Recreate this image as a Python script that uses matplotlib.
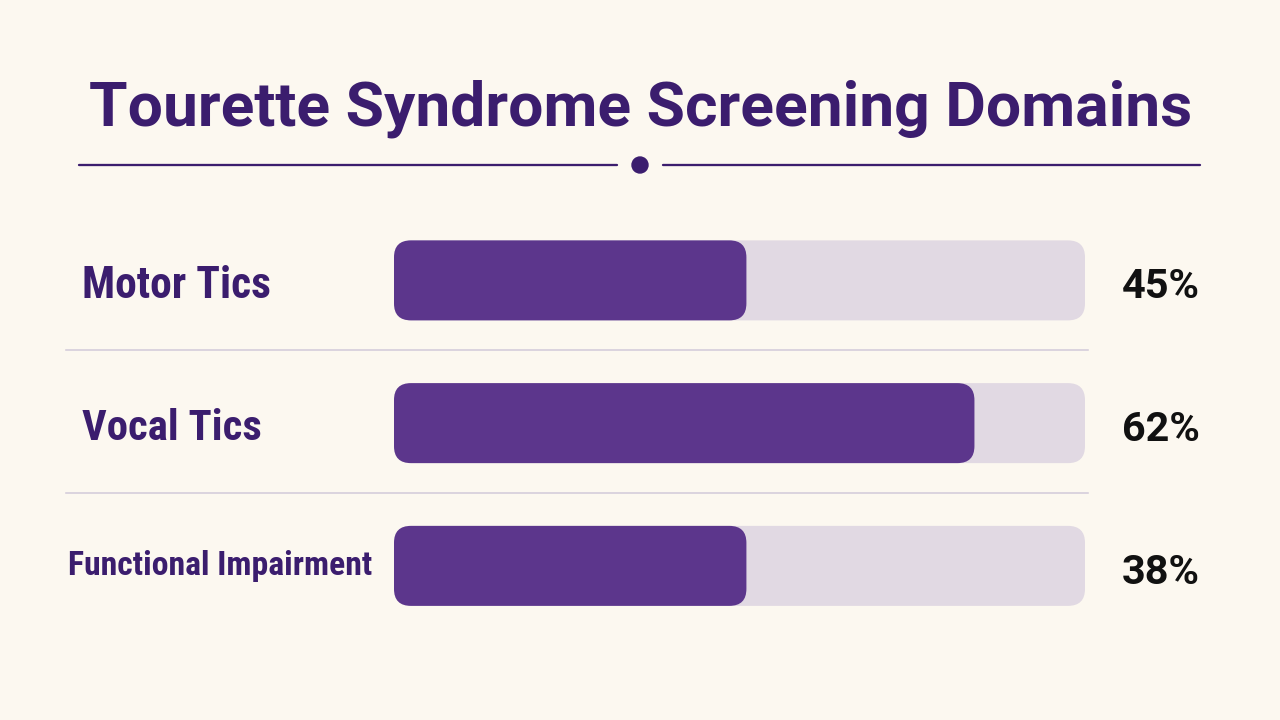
import matplotlib
matplotlib.use("Agg")
import matplotlib.pyplot as plt
from matplotlib.patches import FancyBboxPatch, Circle

# ---- data ----
title = "Tourette Syndrome Screening Domains"
categories = ["Motor Tics", "Vocal Tics", "Functional Impairment"]
value_labels = ["45%", "62%", "38%"]
bar_fill = [51, 84, 51]          # filled length of each track as drawn (percent of track)
track_max = 100

# ---- style ----
BG = "#fcf8f0"
DARK = "#3b1d6e"
FILL = "#5c368c"
TRACK = "#e1d9e3"
SEP = "#d4ccda"
NUM = "#111111"
COND = ["Roboto Condensed", "Roboto", "DejaVu Sans"]
SANS = ["Roboto", "Liberation Sans", "DejaVu Sans"]

W, H, DPI = 1280, 720, 100
fig = plt.figure(figsize=(W / DPI, H / DPI), dpi=DPI, facecolor=BG)
renderer = fig.canvas.get_renderer()

bg = fig.add_axes([0, 0, 1, 1])
bg.set_xlim(0, W)
bg.set_ylim(H, 0)
bg.axis("off")
bg.set_facecolor(BG)


def pt(px):
    return px * 72 / DPI


def fit_width(t, target_px):
    for _ in range(3):
        w = t.get_window_extent(renderer).width
        t.set_fontsize(t.get_fontsize() * target_px / w)


t = bg.text(641, 125, title, ha="center", va="baseline", color=DARK,
            fontsize=pt(64), fontweight="bold", family=SANS)
fit_width(t, 1104)

# divider with dot
bg.plot([79, 617], [165, 165], color=DARK, lw=pt(2.3), solid_capstyle="round")
bg.plot([663, 1200], [165, 165], color=DARK, lw=pt(2.3), solid_capstyle="round")
bg.add_patch(Circle((640, 165), 8, color=DARK))

# bar axes: x in percent of track, y in row units
left_px, right_px = 394, 1085
top_px, row_px = 209, 142.75
n = len(categories)
ax = fig.add_axes([left_px / W, 1 - (top_px + n * row_px) / H,
                   (right_px - left_px) / W, n * row_px / H])
ax.set_xlim(0, track_max)
ax.set_ylim(n - 0.5, -0.5)
ax.axis("off")
ax.patch.set_alpha(0)

bar_h = 80 / row_px
x_unit_px = (right_px - left_px) / track_max
aspect = x_unit_px / row_px
rad = 17 / x_unit_px

label_x = [82, 82, 68]
label_w = [189, 180, 303]
label_base = [298, 440, 575]
num_base = [298, 441, 584]

for i, (cat, lab, v) in enumerate(zip(categories, value_labels, bar_fill)):
    ax.add_patch(FancyBboxPatch((0, i - bar_h / 2), track_max, bar_h,
                                boxstyle=f"round,pad=0,rounding_size={rad}",
                                mutation_aspect=aspect, fc=TRACK, ec="none"))
    ax.add_patch(FancyBboxPatch((0, i - bar_h / 2), v, bar_h,
                                boxstyle=f"round,pad=0,rounding_size={rad}",
                                mutation_aspect=aspect, fc=FILL, ec="none"))
    tl = bg.text(label_x[i], label_base[i], cat, ha="left", va="baseline", color=DARK,
                 fontsize=pt(42), fontweight="bold", family=COND)
    fit_width(tl, label_w[i])
    tn = bg.text(1200, num_base[i], lab, ha="right", va="baseline", color=NUM,
                 fontsize=pt(42), fontweight="bold", family=SANS)
    fit_width(tn, 78)

# separators
for y in [350, 493]:
    bg.plot([66, 1088], [y, y], color=SEP, lw=pt(1.6))

fig.savefig("out.png", dpi=DPI, facecolor=BG)
